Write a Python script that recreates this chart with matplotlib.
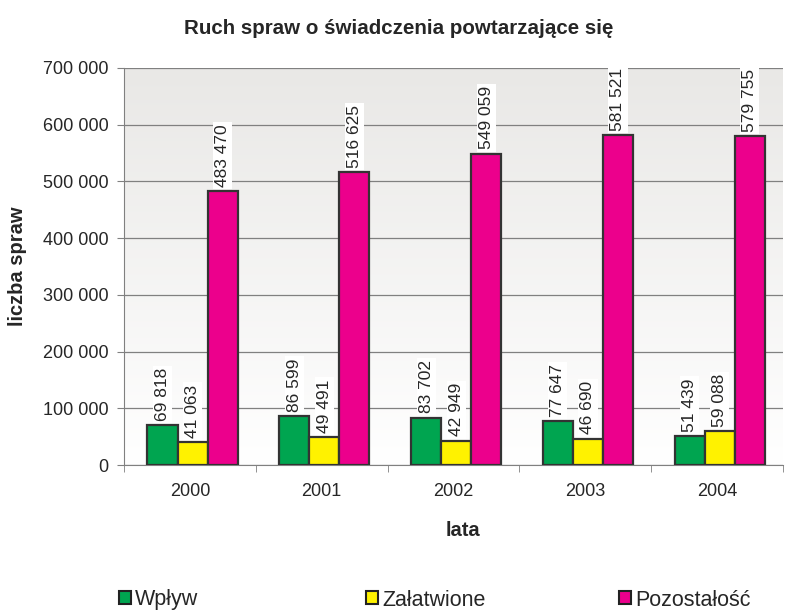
import numpy as np
import matplotlib
matplotlib.use('Agg')
import matplotlib.pyplot as plt
from matplotlib.patches import Patch

plt.rcParams['font.family'] = ['Liberation Sans', 'DejaVu Sans']

years = ['2000', '2001', '2002', '2003', '2004']
wplyw = [69818, 86599, 83702, 77647, 51439]
zalatwione = [41063, 49491, 42949, 46690, 59088]
pozostalosc = [483470, 516625, 549059, 581521, 579755]
series_names = ['Wpływ', 'Załatwione', 'Pozostałość']
colors = ['#00a550', '#fff200', '#ec008c']

TXT = '#262626'


def fmt(v):
    return f'{v:,}'.replace(',', ' ')


W, H = 792, 611
fig = plt.figure(figsize=(W / 100, H / 100), dpi=100)
ax = fig.add_axes([124 / W, 1 - 465 / H, (783 - 124) / W, (465 - 68) / H])

# gradient background (white at bottom, light gray at top)
grad = np.linspace(0, 1, 256).reshape(-1, 1)
cmap = matplotlib.colors.LinearSegmentedColormap.from_list('bg', ['#ffffff', '#e9e8e6'])
ax.imshow(grad, cmap=cmap, aspect='auto', origin='lower',
          extent=[-0.5, len(years) - 0.5, 0, 700000], zorder=0)

x = np.arange(len(years))
w = 0.228
for i, (vals, c) in enumerate(zip([wplyw, zalatwione, pozostalosc], colors)):
    pos = x + (i - 1) * w + 0.02
    ax.bar(pos, vals, width=w, color=c, edgecolor='#333333', linewidth=1.6, zorder=3)
    for p, v in zip(pos, vals):
        ax.annotate(fmt(v), (p, v), xytext=(0, 3), textcoords='offset points',
                    rotation=90, ha='center', va='bottom', fontsize=12.5, color=TXT,
                    bbox=dict(boxstyle='square,pad=0.12', fc='white', ec='none'), zorder=4)

ax.set_xlim(-0.5, len(years) - 0.5)
ax.set_ylim(0, 700000)
ax.set_yticks(np.arange(0, 700001, 100000))
ax.set_yticklabels([fmt(v) for v in range(0, 700001, 100000)], fontsize=13, color=TXT)
ax.yaxis.grid(True, color='#808080', linewidth=0.9, zorder=1)
ax.set_axisbelow(True)

ax.set_xticks(x)
ax.set_xticklabels(years, fontsize=13, color=TXT)
ax.tick_params(axis='x', length=0, pad=13)
ax.set_xticks(np.arange(-0.5, len(years) + 0.5, 1), minor=True)
ax.tick_params(axis='x', which='minor', length=5, color='#808080')
ax.tick_params(axis='y', length=5, color='#808080', pad=6)

for s in ['top', 'right']:
    ax.spines[s].set_visible(False)
ax.spines['left'].set_color('#808080')
ax.spines['bottom'].set_color('#808080')

fig.text(399 / W, 1 - 28 / H, 'Ruch spraw o świadczenia powtarzające się', fontsize=14.8,
         fontweight='bold', color=TXT, ha='center', va='center')
fig.text(463 / W, 1 - 530 / H, 'lata', fontsize=14.5, fontweight='bold', color=TXT,
         ha='center', va='center')
fig.text(18 / W, 1 - 266 / H, 'liczba spraw', fontsize=14.5, fontweight='bold', color=TXT,
         ha='center', va='center', rotation=90)

# legend entries spread across the bottom
legend_x = [119, 366, 619]
for name, c, lx in zip(series_names, colors, legend_x):
    h = Patch(facecolor=c, edgecolor='#222222', linewidth=1.5)
    fig.legend([h], [name], loc='center left', bbox_to_anchor=(lx / W, 1 - 600 / H),
               frameon=False, fontsize=15.5, handlelength=0.55, handleheight=0.55,
               handletextpad=0.2, borderpad=0, borderaxespad=0, labelcolor=TXT)

fig.savefig('out.png', dpi=100)
